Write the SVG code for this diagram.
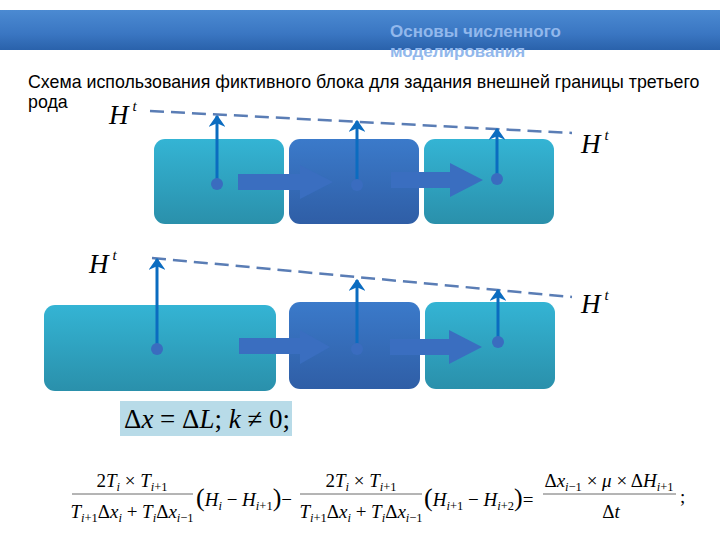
<svg xmlns="http://www.w3.org/2000/svg" width="720" height="540" viewBox="0 0 720 540">
<defs>
<linearGradient id="gBar" x1="0" y1="0" x2="0" y2="1">
<stop offset="0" stop-color="#4b8ad2"/>
<stop offset="0.6" stop-color="#3a76c2"/>
<stop offset="1" stop-color="#2a62ab"/>
</linearGradient>
<linearGradient id="gCyan" x1="0" y1="0" x2="0" y2="1">
<stop offset="0" stop-color="#34b4d4"/>
<stop offset="1" stop-color="#2a90ab"/>
</linearGradient>
<linearGradient id="gBlue" x1="0" y1="0" x2="0" y2="1">
<stop offset="0" stop-color="#3b7aca"/>
<stop offset="1" stop-color="#2f5ea6"/>
</linearGradient>
<marker id="ah" viewBox="0 0 10 14" refX="9" refY="7" markerWidth="4.2" markerHeight="5.6" markerUnits="strokeWidth" orient="auto">
<path d="M0,0 L10,7 L0,14 L3,7 Z" fill="#0b6cc0"/>
</marker>
</defs>
<style>
.cyan{fill:url(#gCyan)}
.blue{fill:url(#gBlue)}
.dot{fill:#3a6cbf}
.vup{stroke:#0b6cc0;stroke-width:3;fill:none;marker-end:url(#ah)}
.dash{stroke:#5a7db5;stroke-width:2.5;stroke-dasharray:14 7;fill:none}
.harr{fill:#3a6ec0}
.ht{font-family:"Liberation Serif","Times New Roman",serif;font-size:27px;font-style:italic;fill:#000}
.sup{font-size:15px}
.sans{font-family:"Liberation Sans",Arial,sans-serif}
.m{font-family:"Liberation Serif","Times New Roman",serif;font-size:19px;fill:#000}
.i{font-style:italic}
.s{font-size:12.5px}
.p{font-size:26px}
.fl{stroke:#444;stroke-width:0.8}
</style>
<rect width="720" height="540" fill="#ffffff"/>
<g id="header">
<rect x="0" y="10" width="720" height="40" fill="url(#gBar)"/>
<text x="390" y="37" class="sans" font-size="17" font-weight="bold" fill="#92b8ec">Основы численного</text>
<text x="390" y="57" class="sans" font-size="17" font-weight="bold" fill="#92b8ec">моделирования</text>
</g>
<g id="subtitle">
<text x="28" y="88" class="sans" font-size="17.8" fill="#000">Схема использования фиктивного блока для задания внешней границы третьего</text>
<text x="28" y="108" class="sans" font-size="17.8" fill="#000">рода</text>
</g>
<g id="top-block-1"><rect x="154" y="139" width="130" height="85" rx="11" class="cyan"/></g>
<g id="top-block-2"><rect x="289" y="139" width="130" height="85" rx="11" class="blue"/></g>
<g id="top-block-3"><rect x="424" y="139" width="130" height="85" rx="11" class="cyan"/></g>
<g id="bottom-block-1"><rect x="44" y="305" width="232" height="86" rx="11" class="cyan"/></g>
<g id="bottom-block-2"><rect x="289" y="302" width="131" height="87" rx="11" class="blue"/></g>
<g id="bottom-block-3"><rect x="425" y="302" width="130" height="87" rx="11" class="cyan"/></g>
<g id="connectors">
<path class="harr" d="M238,174 H300 V165 L333,182 L300,199 V190 H238 Z"/>
<path class="harr" d="M391,172 H450 V163 L483,180 L450,197 V188 H391 Z"/>
<path class="harr" d="M239,338 H300 V330 L330,347 L300,364 V354 H239 Z"/>
<path class="harr" d="M390,339 H449 V330 L482,347 L449,364 V355 H390 Z"/>
<line class="dash" x1="150" y1="111" x2="572" y2="133"/>
<line class="dash" x1="152" y1="258" x2="572" y2="297"/>
<line class="vup" x1="217" y1="184" x2="217" y2="116"/>
<line class="vup" x1="357" y1="185" x2="357" y2="121"/>
<line class="vup" x1="497" y1="179" x2="497" y2="129"/>
<line class="vup" x1="157" y1="349" x2="157" y2="259"/>
<line class="vup" x1="357" y1="349" x2="357" y2="280"/>
<line class="vup" x1="498" y1="342" x2="498" y2="290"/>
<circle class="dot" cx="217" cy="184" r="6"/>
<circle class="dot" cx="357" cy="185" r="6"/>
<circle class="dot" cx="497" cy="179" r="6"/>
<circle class="dot" cx="157" cy="349" r="6"/>
<circle class="dot" cx="357" cy="349" r="6"/>
<circle class="dot" cx="498" cy="342" r="6"/>
</g>
<g id="labels">
<text x="109" y="124" class="ht">H<tspan class="sup" dy="-13" dx="4">t</tspan></text>
<text x="581" y="153" class="ht">H<tspan class="sup" dy="-13" dx="4">t</tspan></text>
<text x="89" y="273" class="ht">H<tspan class="sup" dy="-13" dx="4">t</tspan></text>
<text x="581" y="313" class="ht">H<tspan class="sup" dy="-13" dx="4">t</tspan></text>
</g>
<g id="condition">
<rect x="120" y="401" width="172" height="35" fill="#b8dbe8"/>
<text x="124" y="428" font-family="Liberation Serif, Times New Roman, serif" font-size="27" fill="#000">Δ<tspan font-style="italic">x</tspan> = Δ<tspan font-style="italic">L</tspan>; <tspan font-style="italic">k</tspan> ≠ 0;</text>
</g>
<g id="equation">
<text x="132" y="487" text-anchor="middle" class="m">2<tspan class="i">T</tspan><tspan class="s i" dy="4">i</tspan><tspan dy="-4"> × </tspan><tspan class="i">T</tspan><tspan class="s" dy="4"><tspan class="i">i</tspan>+1</tspan></text>
<line class="fl" x1="72" y1="494" x2="193" y2="494"/>
<text x="132" y="518" text-anchor="middle" class="m"><tspan class="i">T</tspan><tspan class="s" dy="4"><tspan class="i">i</tspan>+1</tspan><tspan dy="-4">Δ</tspan><tspan class="i">x</tspan><tspan class="s i" dy="4">i</tspan><tspan dy="-4"> + </tspan><tspan class="i">T</tspan><tspan class="s i" dy="4">i</tspan><tspan dy="-4">Δ</tspan><tspan class="i">x</tspan><tspan class="s" dy="4"><tspan class="i">i</tspan>−1</tspan></text>
<text x="196" y="506" class="m"><tspan class="p">(</tspan><tspan class="i">H</tspan><tspan class="s i" dy="4">i</tspan><tspan dy="-4"> − </tspan><tspan class="i">H</tspan><tspan class="s" dy="4"><tspan class="i">i</tspan>+1</tspan><tspan class="p" dy="-4">)</tspan>−</text>
<text x="361" y="487" text-anchor="middle" class="m">2<tspan class="i">T</tspan><tspan class="s i" dy="4">i</tspan><tspan dy="-4"> × </tspan><tspan class="i">T</tspan><tspan class="s" dy="4"><tspan class="i">i</tspan>+1</tspan></text>
<line class="fl" x1="300" y1="494" x2="422" y2="494"/>
<text x="361" y="518" text-anchor="middle" class="m"><tspan class="i">T</tspan><tspan class="s" dy="4"><tspan class="i">i</tspan>+1</tspan><tspan dy="-4">Δ</tspan><tspan class="i">x</tspan><tspan class="s i" dy="4">i</tspan><tspan dy="-4"> + </tspan><tspan class="i">T</tspan><tspan class="s i" dy="4">i</tspan><tspan dy="-4">Δ</tspan><tspan class="i">x</tspan><tspan class="s" dy="4"><tspan class="i">i</tspan>−1</tspan></text>
<text x="424" y="506" class="m"><tspan class="p">(</tspan><tspan class="i">H</tspan><tspan class="s" dy="4"><tspan class="i">i</tspan>+1</tspan><tspan dy="-4"> − </tspan><tspan class="i">H</tspan><tspan class="s" dy="4"><tspan class="i">i</tspan>+2</tspan><tspan class="p" dy="-4">)</tspan>=</text>
<text x="609" y="487" text-anchor="middle" class="m">Δ<tspan class="i">x</tspan><tspan class="s" dy="4"><tspan class="i">i</tspan>−1</tspan><tspan dy="-4"> × </tspan><tspan class="i">μ</tspan> × Δ<tspan class="i">H</tspan><tspan class="s" dy="4"><tspan class="i">i</tspan>+1</tspan></text>
<line class="fl" x1="543" y1="494" x2="676" y2="494"/>
<text x="611" y="518" text-anchor="middle" class="m">Δ<tspan class="i">t</tspan></text>
<text x="680" y="503" class="m">;</text>
</g>
</svg>
